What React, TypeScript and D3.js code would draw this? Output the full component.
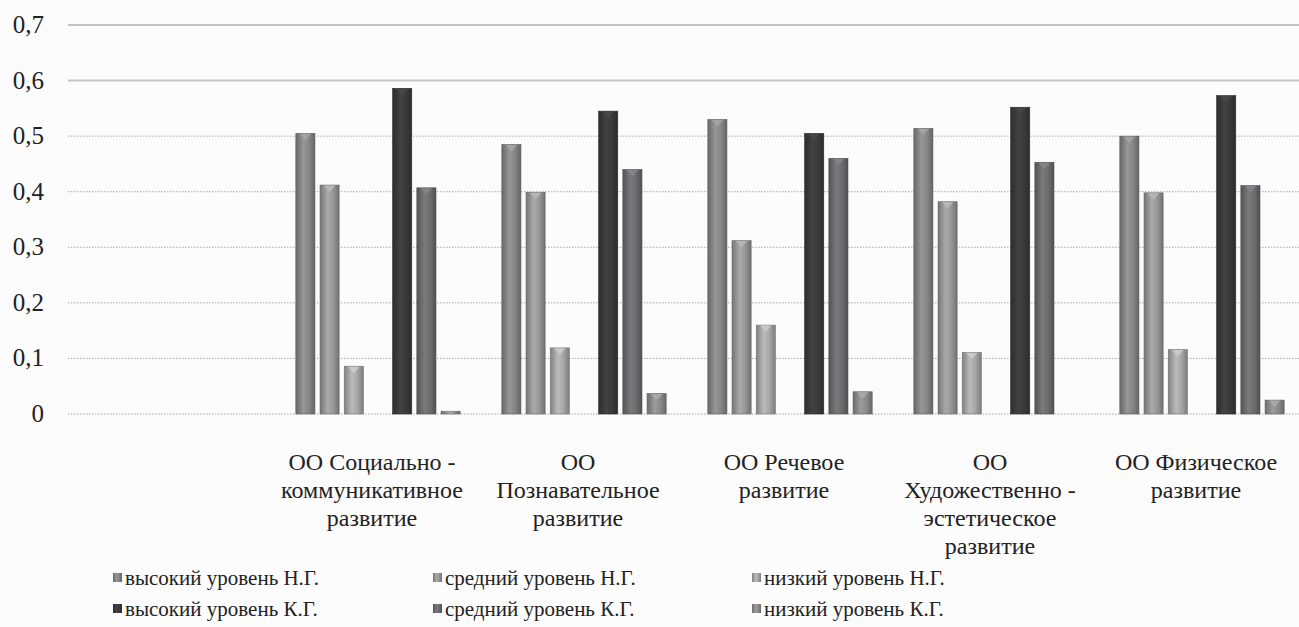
import React from 'react';
import * as d3 from 'd3';

// categories (first slot is empty in the original chart)
const categories = ['', 'soc', 'pozn', 'rech', 'hud', 'fiz'];
const categoryLines: string[][] = [
  [],
  ['ОО Социально -', 'коммуникативное', 'развитие'],
  ['ОО', 'Познавательное', 'развитие'],
  ['ОО Речевое', 'развитие'],
  ['ОО', 'Художественно -', 'эстетическое', 'развитие'],
  ['ОО Физическое', 'развитие'],
];

const seriesNames = [
  'высокий уровень Н.Г.',
  'средний уровень Н.Г.',
  'низкий уровень Н.Г.',
  'высокий уровень К.Г.',
  'средний уровень К.Г.',
  'низкий уровень К.Г.',
];

// values per category (null = no bar)
const highNG = [null, 0.505, 0.485, 0.53, 0.514, 0.5];
const midNG = [null, 0.412, 0.399, 0.312, 0.382, 0.398];
const lowNG = [null, 0.086, 0.119, 0.16, 0.111, 0.116];
const highKG = [null, 0.586, 0.545, 0.505, 0.552, 0.573];
const midKG = [null, 0.407, 0.44, 0.46, 0.453, 0.411];
const lowKG = [null, 0.005, 0.037, 0.04, 0, 0.025];

const yTicks = [0, 0.1, 0.2, 0.3, 0.4, 0.5, 0.6, 0.7];

const seriesValues = [highNG, midNG, lowNG, highKG, midKG, lowKG];
// slot 3 inside each group stays empty
const slots = ['s0', 's1', 's2', 'gap', 's3', 's4', 's5'];
const seriesSlot = ['s0', 's1', 's2', 's3', 's4', 's5'];
const seriesColor = ['#858585', '#969696', '#a5a5a5', '#3a3a3c', '#6c6c6f', '#8a8a8c'];

const W = 1299;
const H = 627;
const FONT = "'Liberation Serif', 'Tinos', 'Times New Roman', monospace";
const css = `.serif-txt, .serif-txt tspan { font-family: 'Liberation Serif', 'Tinos', 'Times New Roman', monospace !important; }`;

const x0 = d3.scaleBand().domain(categories).range([69, 1305]);
const x1 = d3.scaleBand()
  .domain(slots)
  .range([0, x0.bandwidth()])
  .paddingInner(0.21)
  .paddingOuter(0.86);
const y = d3.scaleLinear().domain([0, 0.7]).range([414, 25]);
const legX = d3.scaleOrdinal<number, number>().domain([0, 1, 2]).range([113, 433, 752]);
const legY = d3.scaleOrdinal<number, number>().domain([0, 1]).range([578, 609]);

const fmt = (d: number) => (d === 0 ? '0' : d3.format('.1f')(d).replace('.', ','));

export default function App() {
  const bw = x1.bandwidth();
  const bars: { cat: string; s: number; v: number }[] = [];
  categories.forEach((cat, ci) => {
    seriesValues.forEach((vals, si) => {
      const v = vals[ci];
      if (v !== null && v > 0) bars.push({ cat, s: si, v });
    });
  });

  return (
    <svg width={W} height={H} style={{ position: 'absolute', left: 0, top: 0, fontFamily: FONT }}>
      <style>{css}</style>
      <defs>
        {seriesColor.map((c, i) => {
          const col = d3.color(c)!;
          return (
            <linearGradient key={i} id={`bar-grad-${i}`} x1="0" x2="1" y1="0" y2="0">
              <stop offset="0%" stopColor={col.darker(0.7).toString()} />
              <stop offset="40%" stopColor={col.brighter(0.35).toString()} />
              <stop offset="70%" stopColor={c} />
              <stop offset="100%" stopColor={col.darker(0.8).toString()} />
            </linearGradient>
          );
        })}
      </defs>
      <rect width={W} height={H} fill="#fcfcfc" />

      {/* gridlines */}
      {yTicks.map(t => (
        <line
          key={t}
          x1={68}
          x2={W}
          y1={y(t)}
          y2={y(t)}
          stroke={t >= 0.6 ? '#c4c4c4' : '#a8a8a8'}
          strokeWidth={t >= 0.6 ? 2 : 1}
          strokeDasharray={t >= 0.6 ? undefined : '1.5,1.5'}
        />
      ))}

      {/* y tick labels */}
      {yTicks.map(t => (
        <text
          key={t}
          className="serif-txt"
          x={44}
          y={y(t) + 8}
          textAnchor="end"
          fontSize={25}
          fill="#222"
          style={{ fontFamily: FONT }}
        >
          {fmt(t)}
        </text>
      ))}

      {/* bars */}
      {bars.map((d, i) => {
        const bx = x0(d.cat)! + x1(seriesSlot[d.s])!;
        const top = y(d.v);
        const h = Math.min(7, y(0) - top);
        const col = d3.color(seriesColor[d.s])!;
        return (
          <g key={i} transform={`translate(${bx},0)`}>
            <rect
              x={0}
              y={top}
              width={bw}
              height={y(0) - top}
              fill={`url(#bar-grad-${d.s})`}
              stroke={col.darker(1).toString()}
              strokeWidth={0.6}
            />
            <path
              d={`M${bw * 0.2},${top + 0.5} L${bw * 0.8},${top + 0.5} L${bw * 0.5},${top + h} Z`}
              fill={col.brighter(0.6).toString()}
              opacity={0.85}
            />
          </g>
        );
      })}

      {/* category labels */}
      {categories.map((c, i) => {
        const cx = x0(c)! + x0.bandwidth() / 2 - 6;
        return (
          <text
            key={`cat-${i}`}
            className="serif-txt"
            x={cx}
            y={470}
            textAnchor="middle"
            fontSize={24}
            fill="#222"
            style={{ fontFamily: FONT }}
          >
            {categoryLines[i].map((l, j) => (
              <tspan key={j} x={cx} dy={j === 0 ? 0 : 28}>
                {l}
              </tspan>
            ))}
          </text>
        );
      })}

      {/* legend */}
      {seriesNames.map((n, i) => (
        <g key={n} transform={`translate(${legX(i % 3)},${legY(Math.floor(i / 3))})`}>
          <rect x={0} y={-5} width={9} height={9} fill={`url(#bar-grad-${i})`} />
          <text
            className="serif-txt"
            x={12}
            y={7}
            fontSize={21}
            fill="#222"
            style={{ fontFamily: FONT }}
          >
            {n}
          </text>
        </g>
      ))}
    </svg>
  );
}
